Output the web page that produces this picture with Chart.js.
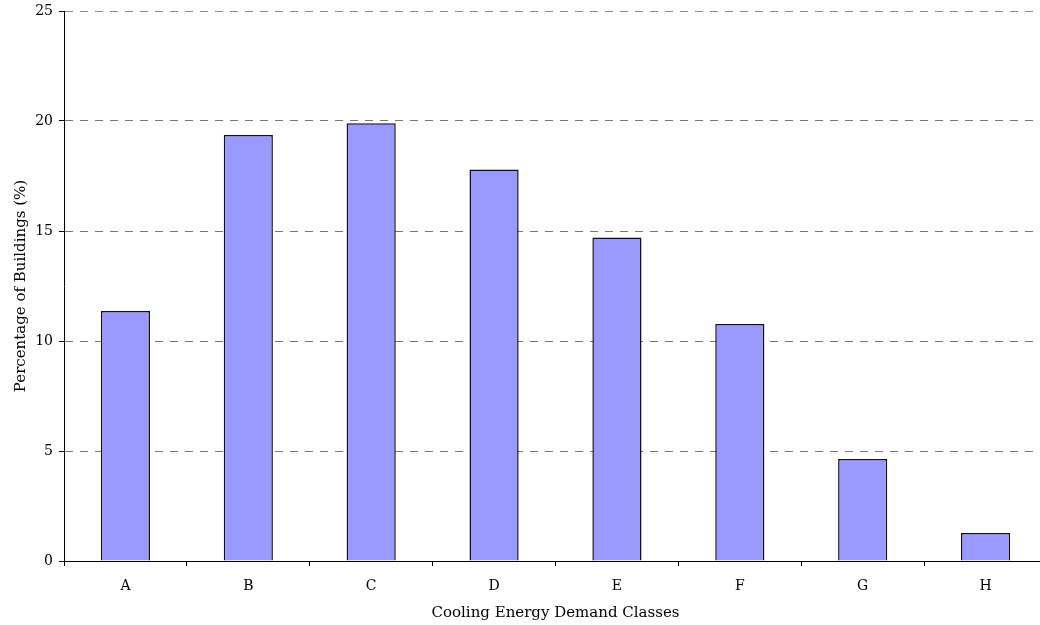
<!DOCTYPE html>
<html>
<head>
<meta charset="utf-8">
<script src="https://cdn.jsdelivr.net/npm/chart.js@4/dist/chart.umd.min.js"></script>
<style>
  html, body { margin: 0; padding: 0; background: #fff; overflow: hidden; }
  #wrap { width: 1040px; height: 625px; overflow: hidden; }
</style>
</head>
<body>
<div id="wrap"><canvas id="myChart" width="1047" height="625"></canvas></div>
<script>
// グラフデータ
const classLabels = ['A', 'B', 'C', 'D', 'E', 'F', 'G', 'H'];
const buildingPct = [11.36, 19.36, 19.9, 17.8, 14.71, 10.77, 4.64, 1.27];
const yTicks = [0, 5, 10, 15, 20, 25];

const tickFont = { family: "'DejaVu Serif', serif", size: 14 };
const titleFont = { family: "'DejaVu Serif', serif", size: 15 };

const data = {
  labels: classLabels,
  datasets: [
    {
      label: 'Percentage of Buildings (%)',
      data: buildingPct,
      backgroundColor: '#9999ff',
      borderColor: '#111',
      borderWidth: 1.5,
      categoryPercentage: 1,
      barPercentage: 0.4,
    },
  ],
};

const config = {
  type: 'bar',
  data: data,
  options: {
    responsive: false,
    animation: false,
    devicePixelRatio: 1,
    layout: { padding: { top: 11, right: 0, left: 0, bottom: 0 } },
    plugins: {
      legend: { display: false },
      tooltip: { enabled: false },
    },
    scales: {
      x: {
        afterFit: (scale) => { scale.height = 64; },
        grid: {
          offset: true,
          drawOnChartArea: false,
          drawTicks: true,
          tickLength: 5,
          tickColor: '#000',
        },
        border: { display: true, color: '#000', width: 1 },
        ticks: { color: '#000', font: tickFont, padding: 12 },
        title: {
          display: true,
          text: 'Cooling Energy Demand Classes',
          color: '#000',
          font: titleFont,
          padding: { top: 0, bottom: 3 },
        },
      },
      y: {
        min: 0,
        max: 25,
        afterFit: (scale) => {
          scale.width = 64;
          scale.paddingTop = 0;
        },
        afterBuildTicks: (scale) => {
          scale.ticks = yTicks.map((v) => ({ value: v }));
        },
        grid: {
          color: (ctx) => (ctx.tick && ctx.tick.value === 25 ? '#8c8c8c' : '#777'),
          lineWidth: 1,
          drawTicks: true,
          tickLength: 5,
          tickColor: '#000',
          tickBorderDash: [],
        },
        border: { display: true, color: '#000', width: 1, dash: [8, 7] },
        ticks: { color: '#000', font: tickFont, padding: 6 },
        title: {
          display: true,
          text: 'Percentage of Buildings (%)',
          color: '#000',
          font: titleFont,
          padding: { top: 12, bottom: 0 },
        },
      },
    },
  },
};

const myChart = new Chart(document.getElementById('myChart'), config);
</script>
</body>
</html>
